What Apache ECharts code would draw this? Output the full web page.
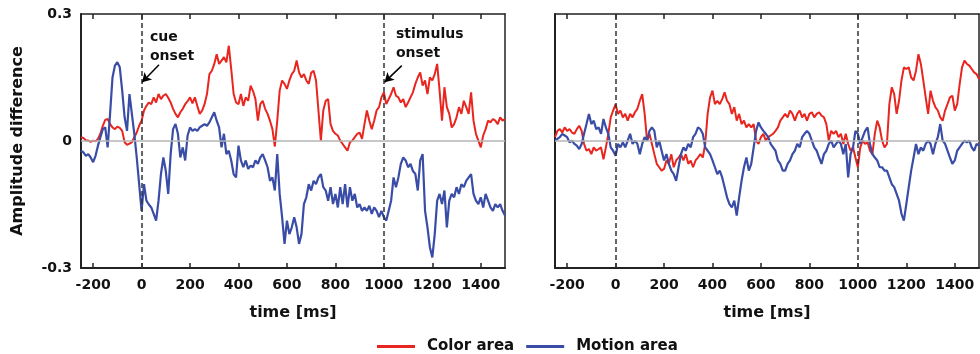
<!DOCTYPE html>
<html><head><meta charset="utf-8">
<script src="https://cdn.jsdelivr.net/npm/echarts@6/dist/echarts.min.js"></script>
<style>html,body{margin:0;padding:0;background:#fff}#c{width:980px;height:354px}</style>
</head><body><div id="c"></div>
<script>
// sample times (ms)
const times = [
-250,-240,-230,-220,-210,-200,-190,-180,-170,-160,
-150,-140,-130,-120,-110,-100,-90,-80,-70,-60,
-50,-40,-30,-20,-10,0,10,20,30,40,
50,60,70,80,90,100,110,120,130,140,
150,160,170,180,190,200,210,220,230,240,
250,260,270,280,290,300,310,320,330,340,
350,360,370,380,390,400,410,420,430,440,
450,460,470,480,490,500,510,520,530,540,
550,560,570,580,590,600,610,620,630,640,
650,660,670,680,690,700,710,720,730,740,
750,760,770,780,790,800,810,820,830,840,
850,860,870,880,890,900,910,920,930,940,
950,960,970,980,990,1000,1010,1020,1030,1040,
1050,1060,1070,1080,1090,1100,1110,1120,1130,1140,
1150,1160,1170,1180,1190,1200,1210,1220,1230,1240,
1250,1260,1270,1280,1290,1300,1310,1320,1330,1340,
1350,1360,1370,1380,1390,1400,1410,1420,1430,1440,
1450,1460,1470,1480,1490,1500];

const colorLeft = [
0.009,0.007,0.002,0.001,-0.002,0.001,-0.001,0.005,0.017,0.036,
0.050,0.052,0.040,0.032,0.028,0.034,0.031,0.024,-0.003,-0.009,
-0.006,-0.003,0.009,0.020,0.036,0.048,0.072,0.083,0.091,0.087,
0.103,0.091,0.111,0.099,0.107,0.111,0.102,0.091,0.076,0.064,
0.056,0.068,0.076,0.087,0.094,0.103,0.089,0.103,0.083,0.064,
0.072,0.087,0.111,0.158,0.166,0.182,0.205,0.182,0.190,0.198,
0.186,0.225,0.170,0.111,0.091,0.087,0.111,0.083,0.103,0.095,
0.131,0.118,0.099,0.048,0.087,0.095,0.076,0.064,0.048,0.028,
-0.013,0.048,0.119,0.143,0.135,0.123,0.143,0.158,0.166,0.190,
0.162,0.150,0.158,0.143,0.135,0.161,0.166,0.143,0.072,0.001,
0.072,0.095,0.099,0.040,0.024,0.017,0.013,0.001,-0.007,-0.015,
-0.023,-0.003,0.001,0.009,0.017,0.020,0.005,0.040,0.072,0.048,
0.028,0.048,0.072,0.080,0.103,0.115,0.087,0.099,0.111,0.127,
0.107,0.103,0.091,0.099,0.080,0.091,0.103,0.115,0.135,0.150,
0.162,0.131,0.143,0.111,0.150,0.143,0.158,0.182,0.119,0.048,
0.127,0.080,0.064,0.032,0.040,0.056,0.080,0.064,0.095,0.080,
0.064,0.115,0.048,0.017,0.001,-0.015,0.013,0.028,0.048,0.044,
0.052,0.048,0.040,0.056,0.048,0.052];

const motionLeft = [
-0.023,-0.027,-0.035,-0.031,-0.039,-0.050,-0.035,-0.011,0.009,0.028,
0.032,-0.015,0.064,0.150,0.178,0.186,0.174,0.119,0.056,0.024,
0.111,0.064,0.017,-0.039,-0.102,-0.165,-0.102,-0.141,-0.150,-0.157,
-0.172,-0.188,-0.141,-0.078,-0.039,-0.071,-0.125,-0.031,0.028,0.040,
0.017,-0.039,-0.015,-0.046,0.013,0.032,0.024,0.028,0.024,0.032,
0.036,0.040,0.036,0.044,0.056,0.068,0.048,0.032,-0.015,0.017,
-0.031,-0.023,-0.046,-0.078,-0.086,-0.011,-0.046,-0.062,-0.046,-0.066,
-0.058,-0.062,-0.046,-0.054,-0.039,-0.031,-0.046,-0.062,-0.094,-0.086,
-0.117,-0.031,-0.125,-0.180,-0.243,-0.188,-0.220,-0.204,-0.180,-0.204,
-0.243,-0.220,-0.149,-0.133,-0.102,-0.117,-0.094,-0.102,-0.086,-0.078,
-0.109,-0.117,-0.141,-0.109,-0.149,-0.125,-0.157,-0.109,-0.149,-0.102,
-0.157,-0.109,-0.141,-0.125,-0.157,-0.149,-0.165,-0.157,-0.165,-0.153,
-0.172,-0.157,-0.165,-0.180,-0.165,-0.180,-0.188,-0.165,-0.141,-0.086,
-0.109,-0.086,-0.054,-0.039,-0.046,-0.062,-0.054,-0.071,-0.078,-0.117,
-0.046,-0.031,-0.165,-0.204,-0.251,-0.275,-0.220,-0.141,-0.125,-0.149,
-0.117,-0.204,-0.141,-0.125,-0.133,-0.109,-0.125,-0.102,-0.109,-0.094,
-0.086,-0.078,-0.125,-0.141,-0.149,-0.133,-0.157,-0.125,-0.141,-0.157,
-0.165,-0.149,-0.157,-0.149,-0.165,-0.176];

const colorRight = [
0.009,0.024,0.028,0.020,0.032,0.024,0.028,0.020,0.017,0.028,
0.036,0.024,-0.007,-0.023,-0.019,-0.031,-0.015,-0.023,-0.019,-0.015,
-0.043,-0.015,0.017,0.056,0.072,0.087,0.064,0.072,0.056,0.064,
0.048,0.064,0.056,0.068,0.076,0.095,0.111,0.064,0.001,0.017,
-0.007,-0.031,-0.054,-0.062,-0.070,-0.066,-0.046,-0.054,-0.031,-0.062,
-0.046,-0.039,-0.031,-0.046,-0.031,-0.054,-0.046,-0.062,-0.046,-0.039,
-0.031,-0.039,-0.007,0.064,0.103,0.119,0.087,0.095,0.087,0.099,
0.115,0.095,0.087,0.064,0.080,0.048,0.064,0.040,0.048,0.032,
0.040,0.032,0.040,0.001,-0.007,0.009,0.017,0.001,0.009,0.013,
0.017,0.024,0.032,0.048,0.056,0.064,0.056,0.072,0.064,0.048,
0.064,0.072,0.056,0.064,0.048,0.064,0.068,0.056,0.064,0.068,
0.060,0.056,0.040,0.001,0.024,0.017,0.024,0.009,0.017,-0.007,
0.017,-0.007,-0.023,-0.015,-0.039,-0.062,-0.015,0.001,-0.007,-0.003,
-0.023,-0.031,0.017,0.048,0.032,0.001,-0.015,-0.007,0.087,0.127,
0.111,0.064,0.095,0.143,0.174,0.170,0.174,0.150,0.143,0.166,
0.205,0.182,0.143,0.103,0.064,0.119,0.095,0.080,0.072,0.056,
0.048,0.072,0.087,0.103,0.107,0.072,0.087,0.134,0.174,0.190,
0.182,0.178,0.170,0.162,0.158,0.146];

const motionRight = [
0.001,0.005,0.009,0.017,0.013,0.009,-0.003,0.001,-0.007,-0.011,
-0.019,-0.007,0.017,0.040,0.064,0.040,0.048,0.028,0.032,0.017,
0.052,0.032,0.017,-0.015,-0.023,-0.035,-0.007,-0.015,-0.003,-0.015,
0.001,0.017,-0.007,0.001,-0.007,-0.031,-0.007,0.009,0.001,0.024,
0.032,0.024,-0.015,0.001,-0.023,-0.046,-0.031,-0.054,-0.070,-0.078,
-0.094,-0.062,-0.031,-0.015,-0.023,-0.007,-0.015,0.009,0.017,0.032,
0.028,0.017,-0.015,-0.023,-0.031,-0.046,-0.062,-0.078,-0.070,-0.086,
-0.109,-0.133,-0.149,-0.157,-0.141,-0.176,-0.133,-0.094,-0.062,-0.039,
-0.070,-0.054,-0.015,0.024,0.044,0.032,0.024,0.017,0.009,-0.007,
-0.015,-0.023,-0.046,-0.054,-0.070,-0.070,-0.054,-0.046,-0.031,-0.023,
-0.007,-0.015,0.009,0.017,0.024,0.017,0.001,-0.015,-0.023,-0.039,
-0.054,-0.031,-0.023,-0.007,0.001,-0.015,-0.007,0.001,-0.007,-0.031,
-0.007,-0.086,-0.031,-0.015,0.024,0.017,-0.007,0.009,0.024,0.032,
-0.007,-0.031,-0.039,-0.046,-0.062,-0.062,-0.070,-0.070,-0.086,-0.102,
-0.109,-0.125,-0.141,-0.172,-0.188,-0.149,-0.109,-0.070,-0.039,-0.007,
-0.031,-0.015,-0.023,-0.007,0.001,-0.007,-0.031,-0.007,0.009,0.040,
0.001,-0.007,-0.023,-0.039,-0.054,-0.046,-0.023,-0.015,-0.007,0.001,
-0.003,0.001,-0.015,-0.023,-0.007,-0.011];

const xTicks = [-200,0,200,400,600,800,1000,1200,1400];
const yTicks = [-0.3,0,0.3];
const seriesNames = ['Color area','Motion area'];
const onsets = [0,1000];

const RED = '#e8261f', BLUE = '#3a4da6', INK = '#111';
const FONT = 'DejaVu Sans';
const pair = v => times.map((t,i)=>[t, v[i]]);

function xAxisBottom(gi){
  return {gridIndex:gi, type:'value', min:-250, max:1500, position:'bottom',
    name:'time [ms]', nameLocation:'middle', nameGap:37,
    nameTextStyle:{fontFamily:FONT, fontWeight:'bold', fontSize:16, color:INK},
    axisLine:{show:true, onZero:false, lineStyle:{color:'#222', width:2}},
    axisTick:{show:true, inside:true, length:5, customValues:xTicks, lineStyle:{color:'#222', width:1.5}},
    axisLabel:{customValues:xTicks, margin:10, fontFamily:FONT, fontWeight:'bold', fontSize:14, color:INK,
      formatter: v => String(v)},
    splitLine:{show:false}};
}
function xAxisTop(gi){
  return {gridIndex:gi, type:'value', min:-250, max:1500, position:'top',
    axisLine:{show:true, onZero:false, lineStyle:{color:'#222', width:1.5}},
    axisTick:{show:true, inside:true, length:5, customValues:xTicks, lineStyle:{color:'#222', width:1.5}},
    axisLabel:{show:false}, splitLine:{show:false}};
}
function yAxis(gi, showLabels){
  return {gridIndex:gi, type:'value', min:-0.3, max:0.3, interval:0.3, position:'left',
    name: showLabels ? 'Amplitude difference' : '', nameLocation:'middle', nameGap:55,
    nameTextStyle:{fontFamily:FONT, fontWeight:'bold', fontSize:16, color:INK},
    axisLine:{show:true, onZero:false, lineStyle:{color:'#222', width:2}},
    axisTick:{show:false},
    axisLabel:{show:showLabels, margin:9, fontFamily:FONT, fontWeight:'bold', fontSize:14, color:INK,
      formatter: v => Math.abs(v) < 1e-9 ? '0' : v.toFixed(1)},
    splitLine:{show:false}};
}
function yAxisRight(gi){
  return {gridIndex:gi, type:'value', min:-0.3, max:0.3, position:'right',
    axisLine:{show:true, onZero:false, lineStyle:{color:'#222', width:1.5}},
    axisTick:{show:false}, axisLabel:{show:false}, splitLine:{show:false}};
}

function guides(gi){
  const data = [
    {yAxis:0, lineStyle:{color:'#b5b5b5', width:1.5, type:'solid'}}
  ];
  return {type:'line', xAxisIndex:gi, yAxisIndex:gi, data:[], z:1, silent:true,
    markLine:{silent:true, symbol:['none','none'], label:{show:false}, animation:false, data}};
}
function onsetLines(gi, arrows){
  const data = onsets.map(o => ({xAxis:o, lineStyle:{color:'#333', width:1.5, type:[5,3]}}));
  arrows.forEach(a => data.push([
    {coord:a[0], symbol:'none', lineStyle:{color:'#000', width:1.5, type:'solid'}},
    {coord:a[1], symbol:'arrow', symbolSize:[8,9]}
  ]));
  return {type:'line', xAxisIndex:gi, yAxisIndex:gi, data:[], z:5, silent:true,
    markLine:{silent:true, symbol:['none','none'], label:{show:false}, animation:false, data}};
}

const chart = echarts.init(document.getElementById('c'), null, {renderer:'canvas'});
chart.setOption({
  animation:false,
  backgroundColor:'#fff',
  grid:[
    {left:81, right:475, top:14, bottom:86},
    {left:555, right:1, top:14, bottom:86}
  ],
  xAxis:[xAxisBottom(0), xAxisBottom(1), xAxisTop(0), xAxisTop(1)],
  yAxis:[yAxis(0,true), yAxis(1,false), yAxisRight(0), yAxisRight(1)],
  legend:{data:seriesNames, left:377, top:339, padding:0, icon:'rect', itemWidth:38, itemHeight:3, itemGap:12,
    textStyle:{fontFamily:FONT, fontWeight:'bold', fontSize:15, color:INK, padding:[0,0,0,7]}},
  graphic:[
    {type:'text', left:150, top:28, style:{text:'cue\nonset', font:'bold 14px "DejaVu Sans"', fill:INK, lineHeight:19}},
    {type:'text', left:396, top:25, style:{text:'stimulus\nonset', font:'bold 14px "DejaVu Sans"', fill:INK, lineHeight:19}}
  ],
  series:[
    guides(0), guides(1),
    {name:seriesNames[0], type:'line', xAxisIndex:0, yAxisIndex:0, data:pair(colorLeft), showSymbol:false, symbol:'none', z:2,
      lineStyle:{color:RED, width:2}, itemStyle:{color:RED}},
    {name:seriesNames[1], type:'line', xAxisIndex:0, yAxisIndex:0, data:pair(motionLeft), showSymbol:false, symbol:'none', z:3,
      lineStyle:{color:BLUE, width:2.2}, itemStyle:{color:BLUE}},
    {name:seriesNames[0], type:'line', xAxisIndex:1, yAxisIndex:1, data:pair(colorRight), showSymbol:false, symbol:'none', z:2,
      lineStyle:{color:RED, width:2}, itemStyle:{color:RED}},
    {name:seriesNames[1], type:'line', xAxisIndex:1, yAxisIndex:1, data:pair(motionRight), showSymbol:false, symbol:'none', z:3,
      lineStyle:{color:BLUE, width:2.2}, itemStyle:{color:BLUE}},
    onsetLines(0, [[[72,0.18],[2,0.139]], [[1074,0.178],[1003,0.139]]]),
    onsetLines(1, [])
  ]
});
</script></body></html>
